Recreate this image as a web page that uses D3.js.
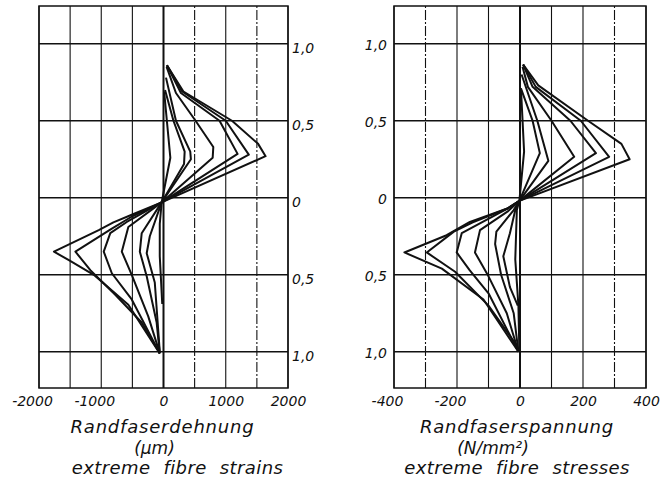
<!DOCTYPE html>
<html>
<head>
<meta charset="utf-8">
<script src="https://cdn.jsdelivr.net/npm/d3@7"></script>
<style>
  body { margin: 0; background: #fff; }
  svg text { font-family: "DejaVu Sans", sans-serif; font-style: italic; fill: #111; }
</style>
</head>
<body>
<script>
// height over the section, as fraction of depth (up positive, down negative)
const heightTicks = [1, 0.5, 0, -0.5, -1];

// extreme fibre strains, µm
const strainTicks = [-2000, -1000, 0, 1000, 2000];
const strainGrid = [-2000, -1500, -1000, -500, 0, 500, 1000, 1500, 2000];
const strainCurves = [
  [[55, 0.86], [320, 0.69], [1100, 0.5], [1520, 0.35], [1640, 0.27], [-30, -0.03], [-510, -0.11], [-805, -0.16], [-1040, -0.21], [-1760, -0.35], [-1520, -0.405], [-1120, -0.5], [-565, -0.695], [-60, -1.01]],
  [[55, 0.86], [300, 0.69], [1000, 0.5], [1370, 0.28], [-30, -0.03], [-500, -0.12], [-830, -0.2], [-1415, -0.35], [-1175, -0.47], [-775, -0.63], [-350, -0.81], [-60, -1.01]],
  [[55, 0.86], [280, 0.68], [900, 0.5], [1190, 0.285], [-30, -0.03], [-590, -0.157], [-855, -0.23], [-960, -0.35], [-830, -0.49], [-510, -0.66], [-60, -1.01]],
  [[50, 0.85], [200, 0.68], [515, 0.5], [800, 0.33], [790, 0.26], [-30, -0.03], [-565, -0.19], [-670, -0.35], [-510, -0.5], [-245, -0.77], [-60, -1.01]],
  [[40, 0.78], [200, 0.5], [430, 0.3], [440, 0.25], [-30, -0.03], [-350, -0.23], [-380, -0.35], [-270, -0.51], [-110, -0.81], [-60, -1.01]],
  [[25, 0.7], [160, 0.5], [340, 0.3], [330, 0.22], [-30, -0.03], [-220, -0.25], [-270, -0.36], [-140, -0.55], [-60, -1.0]],
  [[10, 0.69], [110, 0.26], [-30, -0.03], [-60, -0.17], [-60, -0.38], [-20, -0.69]]
];

// extreme fibre stresses, N/mm²
const stressTicks = [-400, -200, 0, 200, 400];
const stressGrid = [-400, -300, -200, -100, 0, 100, 200, 300, 400];
const stressCurves = [
  [[10, 0.865], [58, 0.73], [216, 0.5], [322, 0.35], [348, 0.25], [-2, -0.02], [-40, -0.07], [-159, -0.157], [-233, -0.243], [-367, -0.355], [-248, -0.46], [-116, -0.66], [-5, -1.0]],
  [[10, 0.865], [50, 0.72], [193, 0.5], [283, 0.266], [-2, -0.02], [-40, -0.07], [-150, -0.16], [-210, -0.22], [-296, -0.355], [-206, -0.48], [-100, -0.7], [-10, -0.96], [-5, -1.0]],
  [[10, 0.865], [40, 0.72], [160, 0.5], [241, 0.29], [-2, -0.02], [-40, -0.07], [-185, -0.23], [-201, -0.355], [-160, -0.47], [-100, -0.62], [-5, -1.0]],
  [[8, 0.85], [25, 0.72], [100, 0.5], [172, 0.266], [-2, -0.02], [-40, -0.09], [-127, -0.21], [-143, -0.355], [-100, -0.51], [-42, -0.75], [-5, -1.0]],
  [[5, 0.8], [55, 0.5], [90, 0.24], [-2, -0.02], [-20, -0.08], [-75, -0.22], [-79, -0.3], [-60, -0.5], [-20, -0.75], [-5, -1.0]],
  [[3, 0.71], [40, 0.5], [63, 0.29], [-2, -0.02], [-15, -0.08], [-32, -0.23], [-53, -0.38], [-32, -0.58], [-7, -0.7]],
  [[3, 0.71], [13, 0.3], [-2, -0.02], [-10, -0.08], [-15, -0.4], [-5, -0.7], [-2, -1.0]]
];

const svg = d3.select("body").append("svg")
  .attr("width", 662)
  .attr("height", 482);

const fmtHeight = (d) => d === 0 ? "0" : d3.format(".1f")(Math.abs(d)).replace(".", ",");

function drawPanel(opt) {
  const x = d3.scaleLinear().domain(opt.xDomain).range(opt.xRange);
  const y = d3.scaleLinear().domain([-1.235, 1.245]).range([388, 6]);
  const g = svg.append("g");

  g.selectAll(".vgrid").data(opt.grid).join("line")
    .attr("class", "vgrid")
    .attr("x1", (d) => x(d)).attr("x2", (d) => x(d))
    .attr("y1", y.range()[0]).attr("y2", y.range()[1])
    .attr("stroke", "#111")
    .attr("stroke-width", (d) => d === 0 ? 2 : 1.1)
    .attr("stroke-dasharray", (d) => opt.dashed.includes(d) ? "10,2,2,2" : null);

  g.selectAll(".hgrid").data(heightTicks).join("line")
    .attr("class", "hgrid")
    .attr("x1", opt.xRange[0]).attr("x2", opt.xRange[1])
    .attr("y1", (d) => y(d)).attr("y2", (d) => y(d))
    .attr("stroke", "#111")
    .attr("stroke-width", 1.4);

  g.append("rect")
    .attr("x", opt.xRange[0]).attr("y", y.range()[1])
    .attr("width", opt.xRange[1] - opt.xRange[0])
    .attr("height", y.range()[0] - y.range()[1])
    .attr("fill", "none").attr("stroke", "#111").attr("stroke-width", 1.5);

  const line = d3.line().x((d) => x(d[0])).y((d) => y(d[1]));
  g.selectAll(".curve").data(opt.curves).join("path")
    .attr("class", "curve")
    .attr("d", line)
    .attr("fill", "none")
    .attr("stroke", "#111")
    .attr("stroke-width", 2)
    .attr("stroke-linejoin", "round");

  // value axis labels
  const xAxis = g.append("g")
    .attr("transform", "translate(0,396)")
    .call(d3.axisBottom(x).tickValues(opt.ticks).tickSize(0).tickPadding(0).tickFormat((d) => d))
    .attr("font-size", 14);
  xAxis.select(".domain").remove();
  xAxis.selectAll("text").attr("dx", (d) => d < 0 ? -7 : 0);

  // height labels
  const yAxisFn = opt.heightSide === "right" ? d3.axisRight(y) : d3.axisLeft(y);
  const yAxis = g.append("g")
    .attr("transform", `translate(${opt.heightSide === "right" ? opt.xRange[1] : opt.xRange[0]},0)`)
    .call(yAxisFn.tickValues(heightTicks).tickSize(0).tickPadding(opt.heightSide === "right" ? 4 : 7).tickFormat(fmtHeight))
    .attr("font-size", 14);
  yAxis.select(".domain").remove();
  yAxis.selectAll("text").attr("dy", opt.heightSide === "right" ? "0.6em" : "0.4em");

  // titles
  const cx = x(0);
  g.append("text").attr("x", cx + opt.titleDx[0]).attr("y", 433)
    .attr("text-anchor", "middle").attr("font-size", 18)
    .attr("letter-spacing", 0.8).text(opt.title);
  g.append("text").attr("x", cx + opt.titleDx[1]).attr("y", 454)
    .attr("text-anchor", "middle").attr("font-size", 17).text(opt.unit);
  g.append("text").attr("x", cx + opt.titleDx[2]).attr("y", 474)
    .attr("text-anchor", "middle").attr("font-size", 18)
    .attr("letter-spacing", 0.4).attr("word-spacing", 7).text(opt.english);
}

drawPanel({
  xDomain: [-2000, 2000], xRange: [39, 288],
  grid: strainGrid, ticks: strainTicks, dashed: [500, 1500],
  curves: strainCurves, heightSide: "right",
  title: "Randfaserdehnung", unit: "(µm)", english: "extreme fibre strains",
  titleDx: [-1, -9, 14]
});

drawPanel({
  xDomain: [-400, 400], xRange: [394, 646],
  grid: stressGrid, ticks: stressTicks, dashed: [-300, 300],
  curves: stressCurves, heightSide: "left",
  title: "Randfaserspannung", unit: "(N/mm²)", english: "extreme fibre stresses",
  titleDx: [-3, -27, -3]
});
</script>
</body>
</html>
